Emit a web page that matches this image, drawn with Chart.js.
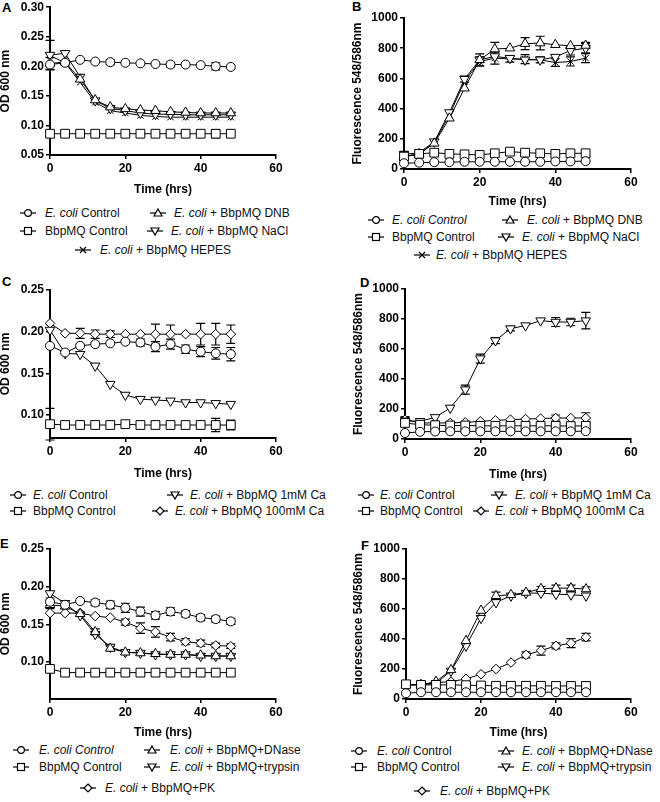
<!DOCTYPE html>
<html>
<head>
<meta charset="utf-8">
<script src="https://cdn.jsdelivr.net/npm/chart.js@4"></script>
<style>
body { margin: 0; background: #fff; width: 660px; height: 802px; position: relative; overflow: hidden;
       font-family: 'Liberation Sans', Arial, sans-serif; }
canvas { position: absolute; }
.letter { position: absolute; font-weight: bold; font-size: 13px; line-height: 14px; }
.leg { position: absolute; font-size: 12px; line-height: 14px; white-space: nowrap; color: #111; }
svg { position: absolute; }
</style>
</head>
<body>
<div class="letter" style="left:2px;top:1px">A</div>
<div class="letter" style="left:352px;top:0px">B</div>
<div class="letter" style="left:2px;top:275px">C</div>
<div class="letter" style="left:360px;top:276px">D</div>
<div class="letter" style="left:0px;top:537px">E</div>
<div class="letter" style="left:361px;top:539px">F</div>
<script>
// sampling times (hrs)
const times = [0, 4, 8, 12, 16, 20, 24, 28, 32, 36, 40, 44, 48];

// A - OD 600
const aCtrl = [0.203, 0.206, 0.211, 0.208, 0.207, 0.206, 0.205, 0.204, 0.203, 0.203, 0.202, 0.200, 0.199];
const aCtrlErr = [0, 0, 0, 0, 0.004, 0, 0, 0, 0.004, 0, 0, 0.006, 0];
const aBbp = [0.086, 0.086, 0.086, 0.086, 0.086, 0.086, 0.086, 0.086, 0.086, 0.086, 0.086, 0.086, 0.086];
const aBbpErr = [0, 0, 0, 0, 0, 0, 0, 0, 0.003, 0.003, 0, 0.007, 0.003];
const aDnb = [0.205, 0.207, 0.178, 0.143, 0.131, 0.128, 0.126, 0.125, 0.123, 0.122, 0.121, 0.121, 0.121];
const aDnbErr = [0.01, 0, 0, 0, 0, 0, 0, 0, 0, 0, 0, 0, 0];
const aNacl = [0.219, 0.222, 0.182, 0.142, 0.129, 0.125, 0.121, 0.119, 0.119, 0.118, 0.118, 0.118, 0.118];
const aNaclErr = [0.025, 0, 0, 0, 0, 0, 0, 0, 0, 0, 0, 0, 0];
const aHepes = [0.218, 0.206, 0.173, 0.139, 0.125, 0.121, 0.117, 0.115, 0.114, 0.114, 0.114, 0.114, 0.114];

// B - fluorescence
const bCtrl = [38, 42, 45, 45, 48, 48, 48, 48, 48, 48, 50, 50, 52];
const bBbp = [82, 100, 108, 100, 97, 93, 104, 115, 108, 104, 100, 104, 104];
const bDnb = [82, 100, 170, 336, 535, 723, 794, 800, 830, 834, 823, 816, 818];
const bDnbErr = [10, 0, 0, 0, 0, 40, 45, 0, 40, 45, 0, 0, 20];
const bNacl = [97, 108, 181, 374, 595, 723, 745, 734, 723, 723, 741, 785, 800];
const bNaclErr = [20, 0, 0, 0, 20, 0, 0, 0, 0, 0, 0, 30, 30];
const bHepes = [82, 100, 175, 358, 580, 712, 734, 728, 728, 723, 705, 712, 734];
const bHepesErr = [0, 0, 0, 0, 0, 30, 40, 20, 30, 20, 25, 30, 30];

// C - OD 600, calcium
const cCtrl = [0.183, 0.175, 0.183, 0.185, 0.186, 0.188, 0.187, 0.182, 0.185, 0.179, 0.176, 0.174, 0.173];
const cCtrlErr = [0, 0, 0, 0, 0, 0, 0.004, 0.006, 0.006, 0.005, 0.006, 0.007, 0.008];
const cBbp = [0.089, 0.088, 0.088, 0.088, 0.088, 0.089, 0.088, 0.088, 0.088, 0.088, 0.088, 0.088, 0.088];
const cBbpErr = [0.019, 0, 0, 0, 0, 0, 0, 0.004, 0, 0, 0, 0.008, 0.006];
const c1mM = [0.202, 0.174, 0.173, 0.159, 0.137, 0.124, 0.119, 0.118, 0.117, 0.115, 0.115, 0.114, 0.113];
const c100mM = [0.210, 0.198, 0.198, 0.197, 0.197, 0.197, 0.197, 0.197, 0.197, 0.197, 0.197, 0.197, 0.197];
const c100mMErr = [0, 0, 0.006, 0.005, 0.004, 0, 0, 0.012, 0.011, 0, 0.013, 0.013, 0.011];

// D - fluorescence, calcium
const dCtrl = [40, 48, 50, 51, 51, 51, 51, 51, 51, 51, 51, 51, 52];
const dBbp = [107, 95, 92, 90, 90, 88, 88, 88, 88, 88, 88, 86, 88];
const dBbpErr = [0, 0, 0, 0, 0, 0, 0, 0, 0, 15, 20, 20, 25];
const d1mM = [122, 118, 144, 207, 329, 536, 656, 736, 756, 789, 780, 780, 789];
const d1mMErr = [20, 0, 0, 0, 30, 30, 20, 15, 0, 0, 30, 25, 55];
const d100mM = [129, 107, 107, 107, 111, 118, 124, 129, 133, 136, 140, 140, 140];
const d100mMErr = [20, 0, 0, 0, 0, 0, 0, 0, 0, 0, 20, 0, 35];

// E - OD 600, enzymes
const eCtrl = [0.180, 0.176, 0.181, 0.179, 0.176, 0.172, 0.167, 0.162, 0.167, 0.164, 0.159, 0.157, 0.154];
const eCtrlErr = [0.005, 0, 0, 0.004, 0.005, 0.006, 0.006, 0.005, 0.005, 0.004, 0.004, 0.004, 0.004];
const eBbp = [0.091, 0.086, 0.086, 0.086, 0.086, 0.086, 0.086, 0.086, 0.086, 0.086, 0.086, 0.086, 0.086];
const eDnase = [0.176, 0.174, 0.164, 0.140, 0.118, 0.113, 0.112, 0.111, 0.110, 0.110, 0.109, 0.108, 0.108];
const eDnaseErr = [0.005, 0.003, 0.003, 0.004, 0.003, 0.002, 0.002, 0.002, 0.002, 0.002, 0.002, 0.002, 0.002];
const eTryp = [0.191, 0.178, 0.162, 0.137, 0.120, 0.113, 0.112, 0.110, 0.110, 0.110, 0.108, 0.108, 0.108];
const ePk = [0.165, 0.165, 0.165, 0.161, 0.159, 0.153, 0.145, 0.140, 0.133, 0.127, 0.125, 0.122, 0.121];
const ePkErr = [0, 0, 0, 0, 0, 0.004, 0.007, 0.007, 0.005, 0.004, 0.004, 0.003, 0.003];

// F - fluorescence, enzymes
const fCtrl = [38, 45, 45, 45, 45, 45, 45, 45, 45, 45, 45, 45, 45];
const fBbp = [98, 94, 94, 94, 92, 90, 88, 88, 88, 88, 87, 87, 87];
const fDnase = [94, 94, 116, 194, 388, 590, 688, 695, 710, 735, 739, 739, 733];
const fDnaseErr = [0, 0, 0, 0, 0, 0, 25, 0, 0, 15, 20, 20, 15];
const fTryp = [94, 94, 105, 187, 354, 539, 644, 688, 706, 706, 699, 695, 688];
const fPk = [94, 98, 109, 116, 134, 165, 200, 243, 294, 323, 354, 372, 412];
const fPkErr = [0, 0, 0, 0, 0, 0, 0, 0, 20, 30, 20, 30, 25];

Chart.defaults.font.family = "'Liberation Sans', Arial, sans-serif";
Chart.defaults.color = '#000';

const markers = {
  circle: { pointStyle: 'circle', pointRadius: 4.5 },
  square: { pointStyle: 'rect', pointRadius: 6.2 },
  tri: { pointStyle: 'triangle', pointRadius: 5.5 },
  itri: { pointStyle: 'triangle', pointRadius: 5.5, pointRotation: 180 },
  diamond: { pointStyle: 'rectRot', pointRadius: 4.8 },
  cross: { pointStyle: 'crossRot', pointRadius: 4.5 }
};

function series(vals, errs, shape) {
  return Object.assign({
    data: times.map((t, i) => ({ x: t, y: vals[i] })),
    errors: errs,
    borderColor: '#000',
    borderWidth: 1,
    pointBackgroundColor: '#fff',
    pointBorderColor: '#000',
    pointBorderWidth: 1,
    tension: 0,
    clip: false
  }, markers[shape]);
}

// vertical SEM bars, drawn under the markers
const errorBars = {
  id: 'errorBars',
  beforeDatasetsDraw(chart) {
    const ctx = chart.ctx;
    const ys = chart.scales.y;
    ctx.save();
    ctx.strokeStyle = '#000';
    ctx.lineWidth = 1.2;
    chart.data.datasets.forEach((ds, i) => {
      if (!ds.errors) return;
      chart.getDatasetMeta(i).data.forEach((pt, j) => {
        const e = ds.errors[j];
        if (!e) return;
        const v = ds.data[j].y;
        const y1 = ys.getPixelForValue(v + e);
        const y2 = ys.getPixelForValue(v - e);
        ctx.beginPath();
        ctx.moveTo(pt.x, y1); ctx.lineTo(pt.x, y2);
        ctx.moveTo(pt.x - 4.5, y1); ctx.lineTo(pt.x + 4.5, y1);
        ctx.moveTo(pt.x - 4.5, y2); ctx.lineTo(pt.x + 4.5, y2);
        ctx.stroke();
      });
    });
    ctx.restore();
  }
};

const bold = { size: 12, weight: 'bold' };

function panel(box, yo, sets) {
  const cv = document.createElement('canvas');
  cv.width = box.W;
  cv.height = box.H;
  cv.style.left = box.L + 'px';
  cv.style.top = box.T + 'px';
  document.body.appendChild(cv);
  new Chart(cv, {
    type: 'line',
    data: { datasets: sets },
    options: {
      responsive: false,
      animation: false,
      layout: { padding: { top: box.t - box.T, right: box.L + box.W - box.r, left: 0, bottom: 0 } },
      plugins: { legend: { display: false }, tooltip: { enabled: false } },
      scales: {
        x: {
          type: 'linear', min: 0, max: 60,
          ticks: { stepSize: 20, font: bold, padding: 2, maxRotation: 0 },
          grid: { drawOnChartArea: false, color: '#000', lineWidth: 1.5, tickLength: 4 },
          border: { color: '#000', width: 2 },
          title: { display: true, text: 'Time (hrs)', font: bold, padding: 0 },
          afterFit: s => { s.height = box.T + box.H - box.b; s.paddingLeft = 0; s.paddingRight = 0; }
        },
        y: {
          min: yo.min, max: yo.max,
          ticks: { stepSize: yo.step, includeBounds: false, font: bold, padding: 2,
                   callback: v => yo.dec ? v.toFixed(yo.dec) : Math.round(v) },
          grid: { drawOnChartArea: false, color: '#000', lineWidth: 1.5, tickLength: 4 },
          border: { color: '#000', width: 2 },
          title: { display: true, text: yo.title, font: bold, padding: 0 },
          afterFit: s => { s.width = box.l - box.L; s.paddingTop = 0; s.paddingBottom = 0; }
        }
      }
    },
    plugins: [errorBars]
  });
}

const od = { min: 0.05, max: 0.30, step: 0.05, dec: 2, title: 'OD 600 nm' };
const fl = { min: 0, max: 1000, step: 200, dec: 0, title: 'Fluorescence 548/586nm' };

panel({ L: -2, T: 0, W: 300, H: 197, l: 50, r: 276, t: 5, b: 155 }, od, [
  series(aCtrl, aCtrlErr, 'circle'),
  series(aBbp, aBbpErr, 'square'),
  series(aDnb, aDnbErr, 'tri'),
  series(aNacl, aNaclErr, 'itri'),
  series(aHepes, null, 'cross')
]);
panel({ L: 350, T: 0, W: 305, H: 209, l: 404, r: 631, t: 18, b: 169 }, fl, [
  series(bCtrl, null, 'circle'),
  series(bBbp, null, 'square'),
  series(bDnb, bDnbErr, 'tri'),
  series(bNacl, bNaclErr, 'itri'),
  series(bHepes, bHepesErr, 'cross')
]);
panel({ L: -2, T: 270, W: 300, H: 211, l: 50, r: 276, t: 290, b: 438 },
  { min: 0.0724, max: 0.25, step: 0.05, dec: 2, title: 'OD 600 nm' }, [
  series(cCtrl, cCtrlErr, 'circle'),
  series(cBbp, cBbpErr, 'square'),
  series(c1mM, null, 'itri'),
  series(c100mM, c100mMErr, 'diamond')
]);
panel({ L: 351, T: 270, W: 304, H: 212, l: 405, r: 631, t: 289, b: 439 }, fl, [
  series(dCtrl, null, 'circle'),
  series(dBbp, dBbpErr, 'square'),
  series(d1mM, d1mMErr, 'itri'),
  series(d100mM, d100mMErr, 'diamond')
]);
panel({ L: -2, T: 530, W: 300, H: 210, l: 50, r: 276, t: 549, b: 699 },
  { min: 0.051, max: 0.25, step: 0.05, dec: 2, title: 'OD 600 nm' }, [
  series(eCtrl, eCtrlErr, 'circle'),
  series(eBbp, null, 'square'),
  series(eDnase, eDnaseErr, 'tri'),
  series(eTryp, null, 'itri'),
  series(ePk, ePkErr, 'diamond')
]);
panel({ L: 351, T: 530, W: 304, H: 210, l: 406, r: 631, t: 549, b: 699 }, fl, [
  series(fCtrl, null, 'circle'),
  series(fBbp, null, 'square'),
  series(fDnase, fDnaseErr, 'tri'),
  series(fTryp, null, 'itri'),
  series(fPk, fPkErr, 'diamond')
]);

// legends (HTML so "E. coli" can be italic)
function markerSvg(shape) {
  let s = '';
  if (shape === 'circle') s = '<circle cx="8" cy="6" r="3.4"/>';
  if (shape === 'square') s = '<rect x="4.5" y="2.5" width="7" height="7"/>';
  if (shape === 'tri') s = '<polygon points="8,2 12,9 4,9"/>';
  if (shape === 'itri') s = '<polygon points="4,3 12,3 8,10"/>';
  if (shape === 'diamond') s = '<polygon points="8,2 12,6 8,10 4,6"/>';
  if (shape === 'cross') s = '<path d="M5 3L11 9M11 3L5 9"/>';
  return '<g fill="#fff" stroke="#000" stroke-width="1.2"><line x1="0" y1="6" x2="16" y2="6"/>' + s + '</g>';
}

function legend(items) {
  items.forEach(([shape, html, mx, tx, y]) => {
    const svg = document.createElementNS('http://www.w3.org/2000/svg', 'svg');
    svg.setAttribute('width', 16);
    svg.setAttribute('height', 12);
    svg.style.left = (mx - 8) + 'px';
    svg.style.top = (y - 6) + 'px';
    svg.innerHTML = markerSvg(shape);
    document.body.appendChild(svg);
    const d = document.createElement('div');
    d.className = 'leg';
    d.style.left = tx + 'px';
    d.style.top = (y - 7) + 'px';
    d.innerHTML = html;
    document.body.appendChild(d);
  });
}

const EC = '<i>E. coli</i>';
legend([
  ['circle', EC + ' Control', 28, 45, 213],
  ['tri', EC + ' + BbpMQ DNB', 158, 174, 213],
  ['square', 'BbpMQ Control', 28, 45, 231],
  ['itri', EC + ' + BbpMQ NaCl', 155, 171, 231],
  ['cross', EC + ' + BbpMQ HEPES', 83, 100, 250],
  ['circle', '<i>E. coli Control</i>', 376, 392, 220],
  ['tri', EC + ' + BbpMQ DNB', 510, 527, 220],
  ['square', 'BbpMQ Control', 376, 392, 237],
  ['itri', EC + ' + BbpMQ NaCl', 506, 522, 237],
  ['cross', EC + ' + BbpMQ HEPES', 422, 436, 255],
  ['circle', EC + ' Control', 18, 33, 495],
  ['itri', EC + ' + BbpMQ 1mM Ca', 175, 190, 495],
  ['square', 'BbpMQ Control', 18, 33, 511],
  ['diamond', EC + ' + BbpMQ 100mM Ca', 160, 175, 511],
  ['circle', EC + ' Control', 366, 380, 495],
  ['itri', EC + ' + BbpMQ 1mM Ca', 499, 515, 495],
  ['square', 'BbpMQ Control', 366, 380, 511],
  ['diamond', EC + ' + BbpMQ 100mM Ca', 481, 495, 511],
  ['circle', '<i>E. coli Control</i>', 21, 39, 750],
  ['tri', EC + ' + BbpMQ+DNase', 152, 170, 750],
  ['square', 'BbpMQ Control', 21, 39, 767],
  ['itri', EC + ' + BbpMQ+trypsin', 152, 170, 767],
  ['diamond', EC + ' + BbpMQ+PK', 88, 105, 788],
  ['circle', EC + ' Control', 359, 377, 751],
  ['tri', EC + ' + BbpMQ+DNase', 506, 522, 751],
  ['square', 'BbpMQ Control', 359, 377, 767],
  ['itri', EC + ' + BbpMQ+trypsin', 506, 522, 767],
  ['diamond', EC + ' + BbpMQ+PK', 422, 440, 791]
]);
</script>
</body>
</html>
